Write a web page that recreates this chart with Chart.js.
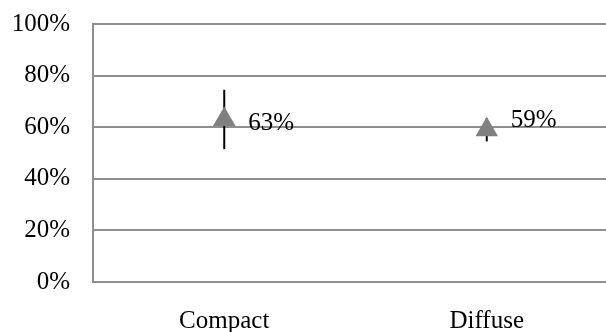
<!DOCTYPE html>
<html>
<head>
<meta charset="utf-8">
<script src="https://cdn.jsdelivr.net/npm/chart.js@4"></script>
<style>
  html, body { margin: 0; padding: 0; background: #fff; overflow: hidden; }
  #wrap { width: 620px; height: 332px; }
  #chart { width: 620px; height: 332px; display: block; }
</style>
</head>
<body>
<div id="wrap"><canvas id="chart" width="620" height="332"></canvas></div>
<script>
const categories = ['Compact', 'Diffuse'];
const shares = [63, 59];
const errors = [11.5, 4.5];
const yTicks = [0, 20, 40, 60, 80, 100];

const serif = 'Liberation Serif';

// error bars behind the markers, value labels to the right
const errorBars = {
  id: 'errorBars',
  beforeDatasetsDraw(chart) {
    const ctx = chart.ctx;
    const y = chart.scales.y;
    const meta = chart.getDatasetMeta(0);
    ctx.save();
    ctx.strokeStyle = '#000';
    ctx.lineWidth = 2;
    meta.data.forEach((pt, i) => {
      ctx.beginPath();
      ctx.moveTo(pt.x, y.getPixelForValue(shares[i] + errors[i]));
      ctx.lineTo(pt.x, y.getPixelForValue(shares[i] - errors[i]));
      ctx.stroke();
    });
    ctx.restore();
  },
  afterDatasetsDraw(chart, args, opts) {
    const ctx = chart.ctx;
    const meta = chart.getDatasetMeta(0);
    ctx.save();
    ctx.fillStyle = '#000';
    ctx.font = '25px "' + serif + '"';
    ctx.textAlign = 'left';
    ctx.textBaseline = 'middle';
    meta.data.forEach((pt, i) => {
      ctx.fillText(shares[i] + '%', pt.x + 24, pt.y + opts.dy[i]);
    });
    ctx.restore();
  }
};

new Chart(document.getElementById('chart'), {
  type: 'line',
  data: {
    labels: categories,
    datasets: [{
      data: shares,
      showLine: false,
      pointStyle: 'triangle',
      pointRadius: 13,
      pointHoverRadius: 13,
      pointBackgroundColor: '#808080',
      pointBorderWidth: 0
    }]
  },
  options: {
    responsive: false,
    animation: false,
    events: [],
    layout: { autoPadding: false, padding: { top: 24, right: 2, left: 0, bottom: 0 } },
    plugins: {
      legend: { display: false },
      tooltip: { enabled: false },
      errorBars: { dy: [4, -9] }
    },
    scales: {
      x: {
        offset: true,
        grid: { display: false, drawTicks: false },
        border: { display: false },
        ticks: {
          color: '#000',
          padding: 27,
          font: { family: serif, size: 25, lineHeight: 1 }
        },
        afterFit(scale) {
          scale.height = 50;
          scale.paddingLeft = 0;
          scale.paddingRight = 0;
        }
      },
      y: {
        min: 0,
        max: 100,
        afterBuildTicks(scale) { scale.ticks = yTicks.map(v => ({ value: v })); },
        grid: { color: '#8f8f8f', lineWidth: 2, drawTicks: false },
        border: { display: true, color: '#8f8f8f', width: 2 },
        ticks: {
          color: '#000',
          padding: 23,
          font: { family: serif, size: 25 },
          callback: v => v + '%'
        },
        afterFit(scale) {
          scale.width = 93;
          scale.paddingTop = 0;
          scale.paddingBottom = 0;
        }
      }
    }
  },
  plugins: [errorBars]
});
</script>
</body>
</html>
